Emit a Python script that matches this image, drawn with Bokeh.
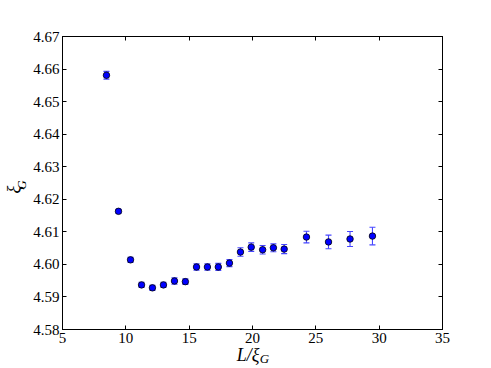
import math
from bokeh.plotting import figure
from bokeh.models import (Range1d, FixedTicker, PrintfTickFormatter, LinearAxis,
                          Whisker, ColumnDataSource, TeeHead, CustomJSTickFormatter)
from bokeh.embed import file_html
from bokeh.resources import INLINE

# data
L_over_xi = [8.47, 9.42, 10.37, 11.24, 12.10, 12.97, 13.84, 14.70, 15.58, 16.44, 17.30,
             18.18, 19.05, 19.90, 20.80, 21.65, 22.50, 24.26, 26.00, 27.70, 29.47]
xi_G = [4.6581, 4.6163, 4.6014, 4.5937, 4.5928, 4.5937, 4.5949, 4.5947, 4.5992, 4.5992, 4.5992,
        4.6004, 4.6038, 4.6053, 4.6045, 4.6051, 4.6047, 4.6084, 4.6069, 4.6078, 4.6087]
xi_err = [0.0012, 0.0006, 0.0008, 0.0008, 0.0008, 0.0008, 0.0010, 0.0009, 0.0010, 0.0010, 0.0011,
          0.0011, 0.0013, 0.0013, 0.0013, 0.0012, 0.0014, 0.0018, 0.0021, 0.0023, 0.0027]
x_ticks = [5, 10, 15, 20, 25, 30, 35]
y_ticks = [4.58, 4.59, 4.60, 4.61, 4.62, 4.63, 4.64, 4.65, 4.66, 4.67]

FONT = "Liberation Serif"

src = ColumnDataSource(dict(
    x=L_over_xi, y=xi_G,
    lo=[v - e for v, e in zip(xi_G, xi_err)],
    hi=[v + e for v, e in zip(xi_G, xi_err)],
))

p = figure(width=491, height=368, output_backend="svg", toolbar_location=None,
           x_range=Range1d(5, 35), y_range=Range1d(4.58, 4.67),
           min_border_left=62, min_border_right=49, min_border_top=36, min_border_bottom=37)
p.grid.visible = False
p.outline_line_color = "black"
p.outline_line_width = 1
p.outline_line_alpha = 1

for ax in (p.xaxis[0], p.yaxis[0]):
    ax.major_tick_in = 4
    ax.major_tick_out = 0
    ax.minor_tick_in = 0
    ax.minor_tick_out = 0
    ax.axis_line_color = "black"
    ax.major_label_text_font = FONT
    ax.major_label_text_font_size = "15px"
    ax.major_label_text_color = "black"
    ax.axis_label_text_font = FONT
    ax.axis_label_text_font_style = "italic"
    ax.axis_label_text_font_size = "18px"
    ax.axis_label_text_color = "black"

p.xaxis[0].ticker = FixedTicker(ticks=x_ticks)
p.xaxis[0].formatter = PrintfTickFormatter(format="%d")
p.xaxis[0].major_label_standoff = 3
p.xaxis[0].axis_label = "L/ξ  "
p.xaxis[0].axis_label_standoff = -1
p.yaxis[0].ticker = FixedTicker(ticks=y_ticks)
p.yaxis[0].formatter = PrintfTickFormatter(format="%.2f")
p.yaxis[0].major_label_standoff = 3
p.yaxis[0].axis_label = "ξ   "
p.yaxis[0].axis_label_standoff = 6

# top / right tick marks (no labels)
for loc in ("above", "right"):
    ax = LinearAxis(ticker=FixedTicker(ticks=x_ticks if loc == "above" else y_ticks),
                    formatter=CustomJSTickFormatter(code="return ''"),
                    major_tick_in=4, major_tick_out=0, minor_tick_in=0, minor_tick_out=0,
                    major_label_standoff=0, axis_line_color="black")
    p.add_layout(ax, loc)

ECOL = "#4646ff"
whisk = Whisker(source=src, base="x", lower="lo", upper="hi", dimension="height",
                line_color=ECOL, line_width=1.1,
                upper_head=TeeHead(size=6, line_color=ECOL, line_width=1.1),
                lower_head=TeeHead(size=6, line_color=ECOL, line_width=1.1))
p.add_layout(whisk)

p.scatter("x", "y", source=src, size=6.5, fill_color="#0000ff", line_color="black", line_width=0.8)

# subscript G of the axis labels, drawn as tick labels of extra label-only axes
def sub_axis(pos, **kw):
    return LinearAxis(ticker=FixedTicker(ticks=[pos]), major_label_overrides={pos: "G"},
                      major_tick_in=0, major_tick_out=0, minor_tick_in=0, minor_tick_out=0,
                      axis_line_color=None, major_label_text_font=FONT,
                      major_label_text_font_style="italic", major_label_text_font_size="13px",
                      major_label_text_color="black", **kw)

p.add_layout(sub_axis(4.6258, major_label_orientation=math.pi / 2, major_label_standoff=-20), "left")
p.add_layout(sub_axis(20.95, major_label_standoff=-17), "below")

open("out.html", "w").write(file_html(p, INLINE))
